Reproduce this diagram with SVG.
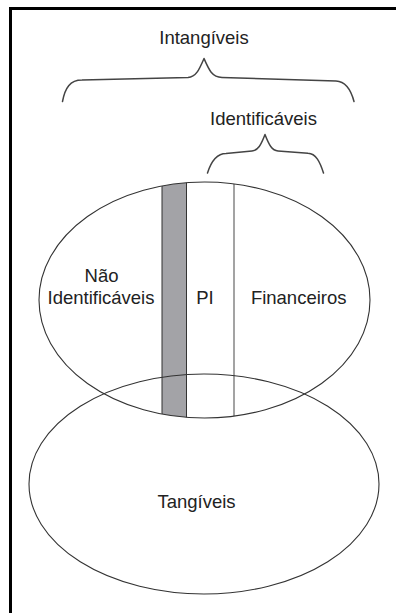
<svg xmlns="http://www.w3.org/2000/svg" width="396" height="615" viewBox="0 0 396 615">
<style>
.t{font-family:"Liberation Sans",Arial,sans-serif;font-size:18.5px;fill:#222;text-anchor:middle}
.ln{fill:none;stroke:#333;stroke-width:1.1}
.br{fill:none;stroke:#444;stroke-width:1.5;stroke-linecap:round;stroke-linejoin:round}
</style>
<defs>
<clipPath id="topClip"><ellipse cx="204.5" cy="300" rx="165.5" ry="118"/></clipPath>
</defs>
<rect width="396" height="615" fill="#fff"/>
<path d="M10.5 613 V8.5 H396" fill="none" stroke="#000" stroke-width="3"/>
<g id="intangiveis">
<path class="br" d="M62.5 101.5 C65 88 70 80 82 80 L188 77.5 C196 77 199 70 204 58.5 C209 70 212 77 222 77.5 L336 81 C346 81.5 351 90 354 101.5"/>
<text class="t" x="204" y="43.5">Intangíveis</text>
</g>
<g id="identificaveis">
<path class="br" d="M207.5 173 C211 162 216 153.5 226 153.5 L252 151 C258 150.5 261 145 265 134.5 C269 145 272 150.5 278 151 L308 153.3 C316 153.5 320 162 323.5 173"/>
<text class="t" x="263.5" y="124.5">Identificáveis</text>
</g>
<g id="intangiveis-ellipse">
<g clip-path="url(#topClip)">
<rect x="162" y="175" width="24.5" height="250" fill="#a3a3a7" stroke="#333" stroke-width="1"/>
<line x1="234" y1="175" x2="234" y2="425" stroke="#666" stroke-width="1.2"/>
</g>
<ellipse class="ln" cx="204.5" cy="300" rx="165.5" ry="118"/>
</g>
<g id="tangiveis">
<ellipse class="ln" cx="204" cy="484" rx="175" ry="110"/>
<text class="t" x="196.5" y="508">Tangíveis</text>
</g>
<g id="nao-identificaveis">
<text class="t" x="101.5" y="282">Não</text>
<text class="t" x="101" y="304">Identificáveis</text>
</g>
<g id="pi"><text class="t" x="205" y="304">PI</text></g>
<g id="financeiros"><text class="t" x="298.7" y="304">Financeiros</text></g>
<g id="connectors"></g>
</svg>
